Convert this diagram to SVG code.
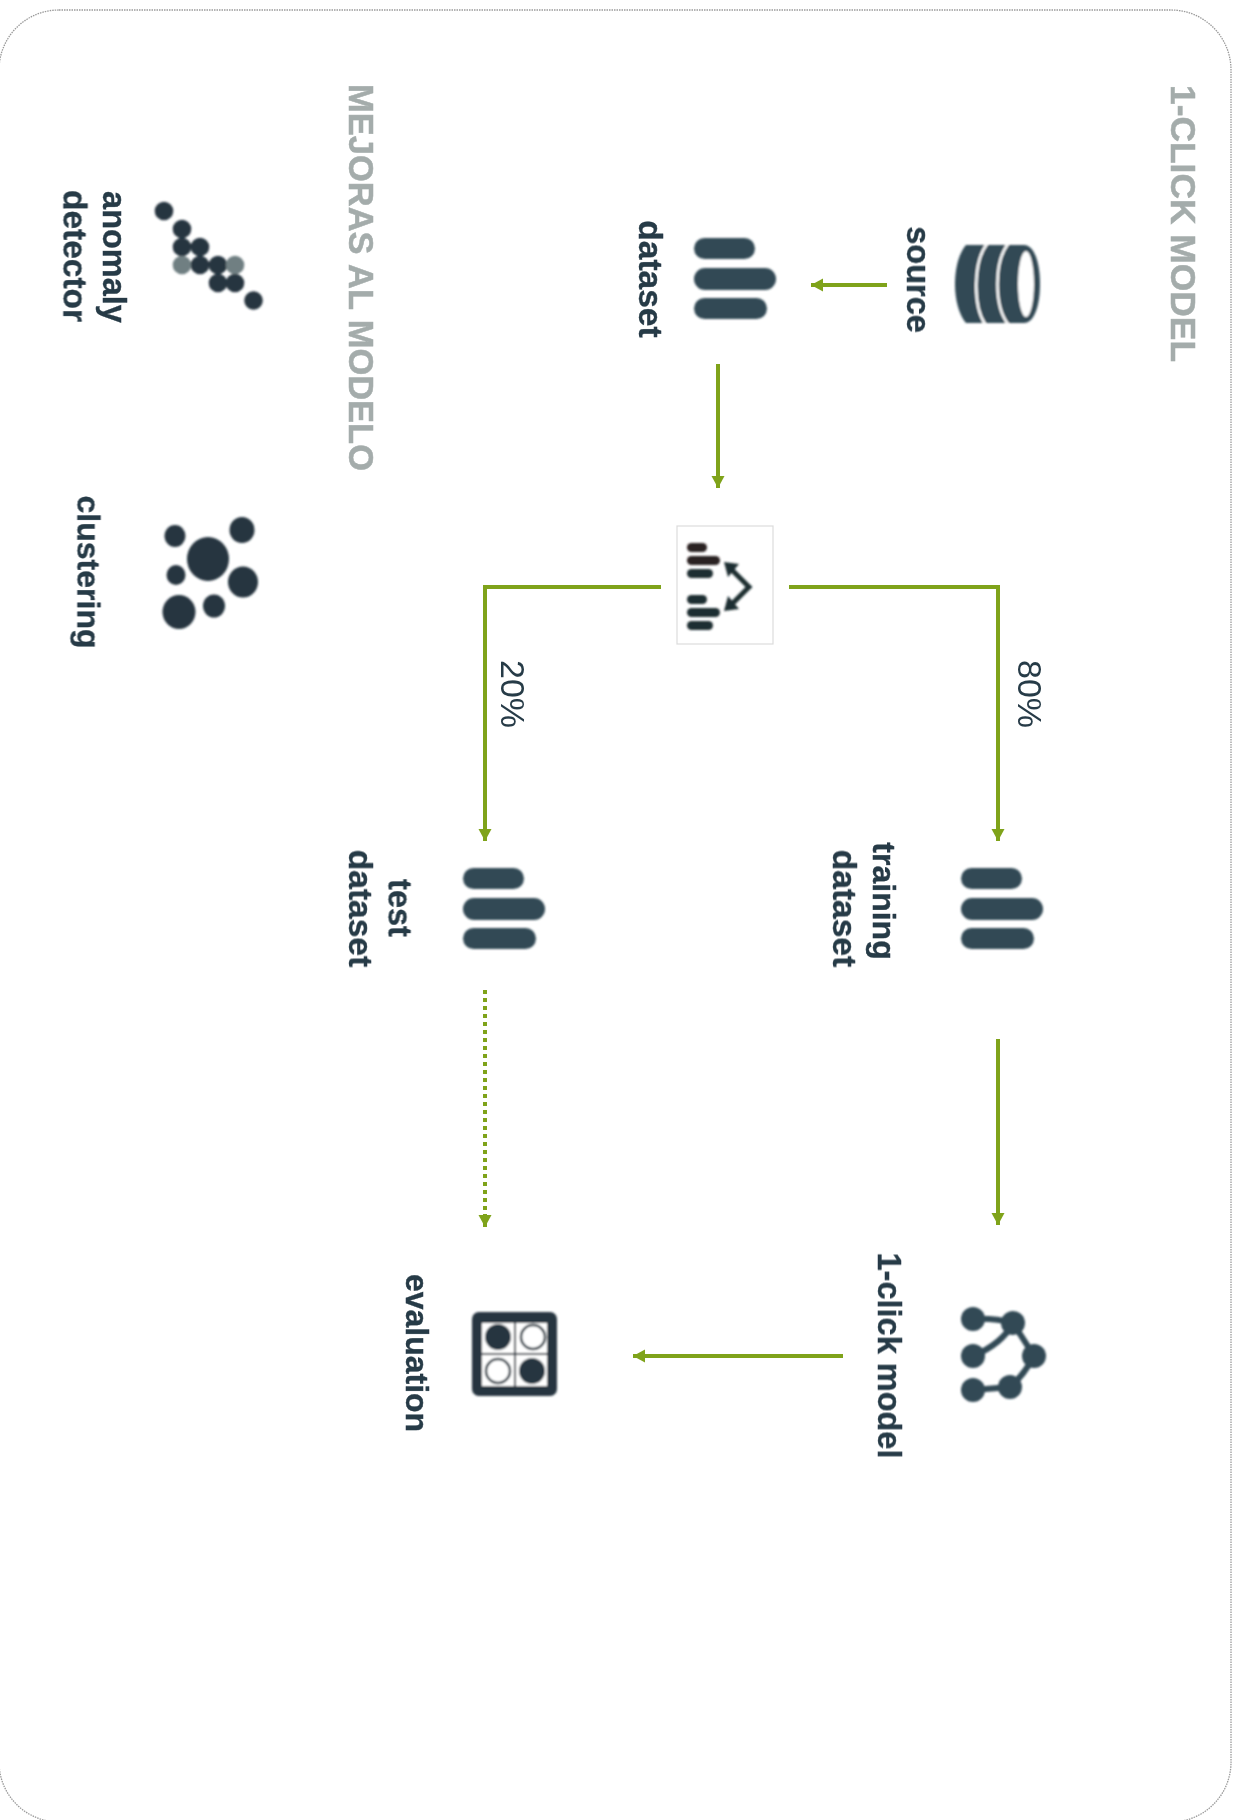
<svg xmlns="http://www.w3.org/2000/svg" width="1240" height="1820" viewBox="0 0 1240 1820">
<style>
text{font-family:"Liberation Sans",Arial,sans-serif;font-kerning:none}
.lb{font-weight:700;font-size:32.500px;fill:#263a46;stroke:#263a46;stroke-width:.35;text-anchor:middle}
.w{font-size:33.500px}
.n{font-size:32px}
.pc{font-size:34px;fill:#263a46;text-anchor:start}
.hd{font-weight:700;font-size:35px;fill:#a4acab;stroke:#a4acab;stroke-width:.5;text-anchor:start}
.ic{fill:#304855}
.dk{fill:#25353f}
.ar{fill:none;stroke:#7fa31a;stroke-width:4}
</style>
<defs>
<filter id="soft" x="-10%" y="-10%" width="120%" height="120%"><feGaussianBlur stdDeviation="0.8"/></filter>
<filter id="softer" x="-10%" y="-10%" width="120%" height="120%"><feGaussianBlur stdDeviation="1.200"/></filter>
<filter id="tx" x="-5%" y="-15%" width="110%" height="130%"><feGaussianBlur stdDeviation="0.45"/></filter>
<marker id="ah" markerUnits="userSpaceOnUse" markerWidth="14" markerHeight="14" refX="12" refY="6.500" orient="auto"><path d="M0,0 L12,6.500 L0,13 Z" fill="#7fa31a"/></marker>
<g id="bars"><rect x="0" y="0" width="61" height="21" rx="10.500"/><rect x="0" y="30" width="82" height="22" rx="11"/><rect x="0" y="60" width="73" height="21" rx="10.500"/></g>
</defs>
<rect width="1240" height="1820" fill="#fff"/>
<rect id="frame" x="-1" y="10" width="1232" height="1812" rx="60" fill="none" stroke="#9a9a9a" stroke-width="1.300" stroke-dasharray="1.500 1"/>
<g id="connectors">
<path class="ar" d="M887,285 H811" marker-end="url(#ah)"/>
<path class="ar" d="M718,364 V488" marker-end="url(#ah)"/>
<path class="ar" d="M789,587 H998 V841" marker-end="url(#ah)"/>
<path class="ar" d="M661,587 H485 V841" marker-end="url(#ah)"/>
<path class="ar" d="M998,1039 V1225" marker-end="url(#ah)"/>
<path class="ar" d="M485,990 V1214" stroke-dasharray="4 4"/>
<path class="ar" d="M485,1214 V1227" marker-end="url(#ah)"/>
<path class="ar" d="M843,1356 H633" marker-end="url(#ah)"/>
</g>
<text class="hd" filter="url(#tx)" transform="translate(1171,85) rotate(90)" textLength="277" lengthAdjust="spacingAndGlyphs">1-CLICK MODEL</text>
<text class="hd" filter="url(#tx)" transform="translate(349,84) rotate(90)" textLength="387" lengthAdjust="spacingAndGlyphs">MEJORAS AL MODELO</text>
<g id="source">
<g filter="url(#soft)">
<path class="ic" d="M966,245 H1024 C1034,245 1040,262 1040,284 C1040,306 1034,323 1024,323 H966 C959,315 955,300 955,284 C955,268 959,253 966,245 Z"/>
<ellipse cx="1026" cy="284" rx="8" ry="33" fill="#fff"/>
<path d="M987,244 C973,262 973,306 985,324 M1008,244 C994,262 994,306 1008,324" fill="none" stroke="#fff" stroke-width="2.500"/>
</g>
<text class="lb" filter="url(#tx)" transform="translate(907,279.500) rotate(90)">source</text>
</g>
<g id="dataset">
<use href="#bars" class="ic" filter="url(#softer)" transform="translate(694,238)"/>
<text class="lb w" filter="url(#tx)" transform="translate(639,279) rotate(90)">dataset</text>
</g>
<g id="split">
<rect x="677" y="526" width="96" height="118" fill="#fff" stroke="#dcdcdc" stroke-width="1.200"/>
<g filter="url(#soft)">
<rect x="687" y="543" width="20" height="9" rx="4.500" fill="#2a2020"/>
<rect x="687" y="556" width="33" height="9" rx="4.500" fill="#2a2020"/>
<rect x="687" y="569" width="26" height="9" rx="4.500" fill="#1f2d30"/>
<rect x="687" y="595" width="20" height="9" rx="4.500" fill="#1f2d30"/>
<rect x="687" y="608" width="33" height="9" rx="4.500" fill="#1f2d30"/>
<rect x="687" y="621" width="26" height="9" rx="4.500" fill="#1f2d30"/>
<path d="M730,568 L749,587 L730,606" fill="none" stroke="#1f2d30" stroke-width="5"/>
<path d="M724,562 L739,564 L728,577 Z M724,611 L739,609 L728,596 Z" fill="#1f2d30"/>
</g>
</g>
<text class="pc" filter="url(#tx)" transform="translate(1018,660) rotate(90)">80%</text>
<text class="pc" filter="url(#tx)" transform="translate(501,660) rotate(90)">20%</text>
<g id="training-dataset">
<use href="#bars" class="ic" filter="url(#softer)" transform="translate(961,868)"/>
<text class="lb n" filter="url(#tx)" transform="translate(873,901) rotate(90)">training</text>
<text class="lb w" filter="url(#tx)" transform="translate(833,908.500) rotate(90)">dataset</text>
</g>
<g id="test-dataset">
<use href="#bars" class="ic" filter="url(#softer)" transform="translate(463,868)"/>
<text class="lb" filter="url(#tx)" transform="translate(388.500,908) rotate(90)">test</text>
<text class="lb w" filter="url(#tx)" transform="translate(349,908.500) rotate(90)">dataset</text>
</g>
<g id="model">
<g filter="url(#soft)">
<path d="M973,1319 Q995,1318 1013,1323 M973,1356 Q1002,1344 1013,1323 L1034,1356 Q1024,1375 1010,1387 L973,1390" fill="none" stroke="#304855" stroke-width="6"/>
<g class="ic"><circle cx="973" cy="1319" r="12"/><circle cx="1013" cy="1323" r="12"/><circle cx="1034" cy="1356" r="12"/><circle cx="1010" cy="1387" r="12"/><circle cx="973" cy="1390" r="12"/><circle cx="973" cy="1356" r="12"/></g>
</g>
<text class="lb" filter="url(#tx)" transform="translate(878,1355.500) rotate(90)">1-click model</text>
</g>
<g id="evaluation">
<g filter="url(#soft)">
<rect x="472" y="1312" width="85" height="84" rx="7" class="dk"/>
<rect x="482" y="1323" width="32" height="30" fill="#fff"/><rect x="516" y="1323" width="31" height="30" fill="#fff"/>
<rect x="482" y="1355" width="32" height="31" fill="#fff"/><rect x="516" y="1355" width="31" height="31" fill="#fff"/>
<circle cx="498" cy="1337" r="13" class="dk"/><circle cx="532" cy="1371" r="13" class="dk"/>
<circle cx="533" cy="1337" r="12" fill="none" stroke="#25353f" stroke-width="2.500"/><circle cx="498" cy="1371" r="12" fill="none" stroke="#25353f" stroke-width="2.500"/>
</g>
<text class="lb n" filter="url(#tx)" transform="translate(406,1353) rotate(90)">evaluation</text>
</g>
<g id="anomaly-detector">
<g filter="url(#soft)" class="dk">
<circle cx="164" cy="211" r="9.300"/><circle cx="182" cy="229" r="9.300"/><circle cx="182" cy="247" r="9.300"/><circle cx="200" cy="247" r="9.300"/><circle cx="200" cy="265" r="9.300"/><circle cx="218" cy="265" r="9.300"/><circle cx="218" cy="283" r="9.300"/><circle cx="235" cy="283" r="9.300"/><circle cx="253.500" cy="300.500" r="9.300"/>
<circle cx="182" cy="265" r="9.300" fill="#6f7f82"/><circle cx="235" cy="265" r="9.300" fill="#6f7f82"/>
</g>
<text class="lb" filter="url(#tx)" transform="translate(103,257) rotate(90)">anomaly</text>
<text class="lb w" filter="url(#tx)" transform="translate(63.500,256) rotate(90)">detector</text>
</g>
<g id="clustering">
<g filter="url(#soft)" class="dk">
<ellipse cx="242" cy="530" rx="12.500" ry="13"/><ellipse cx="175" cy="536" rx="10.500" ry="11"/><ellipse cx="208" cy="559" rx="21" ry="22"/><ellipse cx="243" cy="582" rx="15" ry="15.500"/><ellipse cx="176" cy="575" rx="9.500" ry="10"/><ellipse cx="214" cy="606" rx="11" ry="11.500"/><ellipse cx="179" cy="612" rx="16.500" ry="17"/>
</g>
<text class="lb n" filter="url(#tx)" transform="translate(77.500,572) rotate(90)">clustering</text>
</g>
</svg>
